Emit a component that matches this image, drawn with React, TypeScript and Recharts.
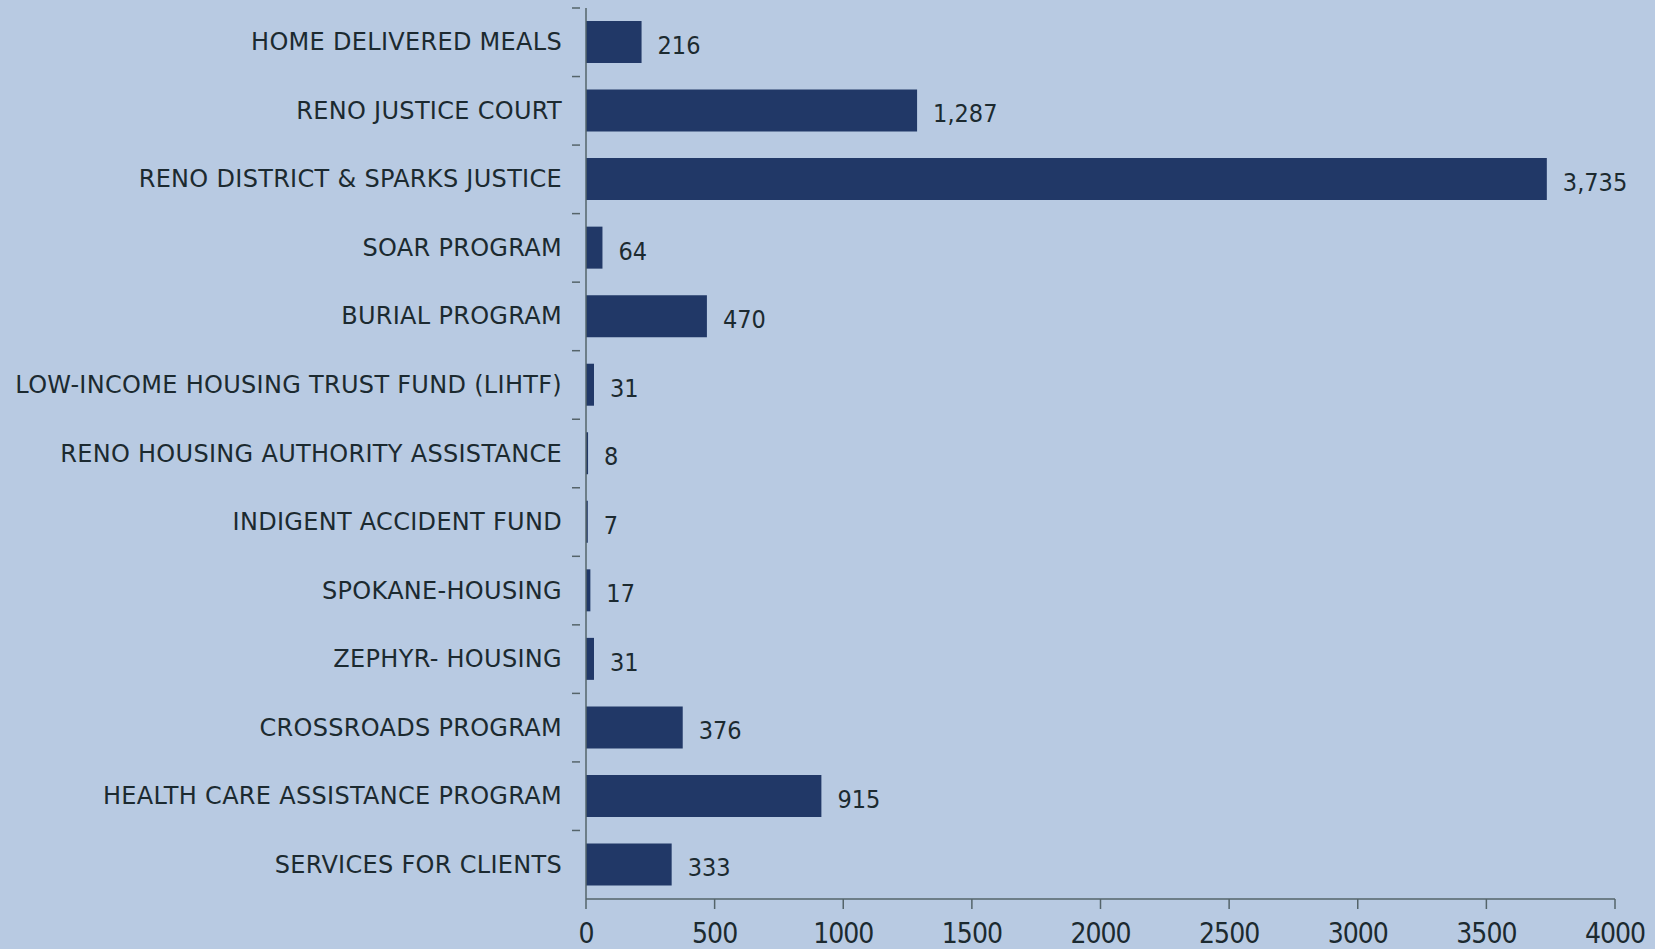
import React from 'react';
import { BarChart, Bar, XAxis, YAxis, LabelList } from 'recharts';

const programs = [
  'HOME DELIVERED MEALS',
  'RENO JUSTICE COURT',
  'RENO DISTRICT & SPARKS JUSTICE',
  'SOAR PROGRAM',
  'BURIAL PROGRAM',
  'LOW-INCOME HOUSING TRUST FUND (LIHTF)',
  'RENO HOUSING AUTHORITY ASSISTANCE',
  'INDIGENT ACCIDENT FUND',
  'SPOKANE-HOUSING',
  'ZEPHYR- HOUSING',
  'CROSSROADS PROGRAM',
  'HEALTH CARE ASSISTANCE PROGRAM',
  'SERVICES FOR CLIENTS',
];
const clients = [216, 1287, 3735, 64, 470, 31, 8, 7, 17, 31, 376, 915, 333];
const xTicks = [0, 500, 1000, 1500, 2000, 2500, 3000, 3500, 4000];

const data = programs.map((name, i) => ({ name, value: clients[i] }));

const W = 1655;
const H = 949;
const TOP = 8;
const AXIS_H = 50;
const BAND = (H - TOP - AXIS_H) / programs.length;
const FONT = "'DejaVu Sans', 'Roboto', sans-serif";
const NARROW = "'DejaVu Sans Condensed', 'Liberation Sans Narrow', sans-serif";
const TEXT = '#1c2a30';
const AXIS = '#55646a';

const CategoryTick = (props: any) => {
  const { x, y, payload } = props;
  return (
    <g>
      <line x1={x + 10} x2={x + 18} y1={y - BAND / 2} y2={y - BAND / 2} stroke={AXIS} strokeWidth={1.5} />
      <text x={x} y={y} dy={8} textAnchor="end" fill={TEXT} fontSize={24} fontFamily={FONT} letterSpacing={0.3}>
        {payload.value}
      </text>
    </g>
  );
};

export default function App() {
  return (
    <div style={{ position: 'absolute', left: 0, top: 0, width: W, height: H, background: '#b8cae2' }}>
      <BarChart
        width={W}
        height={H}
        data={data}
        layout="vertical"
        margin={{ top: TOP, right: 40, left: 0, bottom: 0 }}
        barCategoryGap="19%"
      >
        <XAxis
          type="number"
          domain={[0, 4000]}
          ticks={xTicks}
          height={AXIS_H}
          stroke={AXIS}
          strokeWidth={1.5}
          tickSize={10}
          tickMargin={14}
          tick={{ fill: TEXT, fontSize: 28, fontFamily: NARROW, letterSpacing: -1 }}
        />
        <YAxis
          type="category"
          dataKey="name"
          width={586}
          stroke={AXIS}
          strokeWidth={1.5}
          tickLine={false}
          tickMargin={18}
          tick={<CategoryTick />}
          interval={0}
        />
        <Bar dataKey="value" fill="#213867" isAnimationActive={false}>
          <LabelList
            dataKey="value"
            position="right"
            offset={16}
            formatter={(v: any) => Number(v).toLocaleString('en-US')}
            fill={TEXT}
            fontSize={25}
            fontFamily={NARROW}
            dy={3}
          />
        </Bar>
      </BarChart>
    </div>
  );
}
